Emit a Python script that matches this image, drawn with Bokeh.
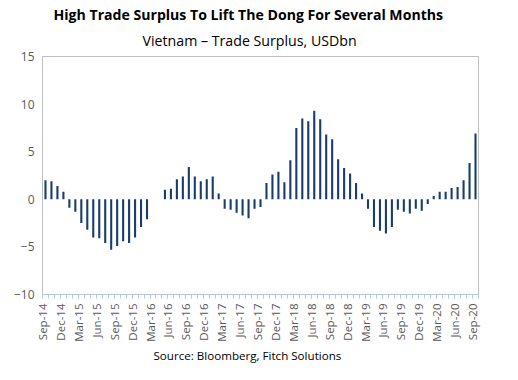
import numpy as np
from bokeh.plotting import figure
from bokeh.models import Range1d, FixedTicker, Title, ColumnDataSource
from bokeh.embed import file_html
from bokeh.resources import INLINE

# Monthly trade surplus, USDbn, Sep-14 .. Sep-20 (73 months)
values = [2.0, 1.9, 1.4, 0.8, -0.9, -1.3, -2.5, -3.2, -4.0, -4.1, -4.6, -5.3,
          -4.9, -4.4, -4.6, -4.0, -2.9, -2.1, 0.0, 0.0, 1.0, 1.1, 2.1, 2.4,
          3.4, 2.4, 1.9, 2.1, 2.4, 0.6, -1.0, -1.1, -1.4, -1.7, -2.0, -1.0,
          -0.8, 1.7, 2.6, 2.9, 1.8, 4.1, 7.5, 8.5, 8.2, 9.3, 8.4, 6.8,
          6.3, 4.2, 3.3, 2.7, 1.7, 0.6, -1.0, -2.9, -3.3, -3.6, -2.9, -1.1,
          -1.3, -1.5, -1.0, -1.2, -0.5, 0.35, 0.8, 0.8, 1.2, 1.3, 2.0, 3.8,
          6.9]

tick_labels = ["Sep-14", "Dec-14", "Mar-15", "Jun-15", "Sep-15", "Dec-15",
               "Mar-16", "Jun-16", "Sep-16", "Dec-16", "Mar-17", "Jun-17",
               "Sep-17", "Dec-17", "Mar-18", "Jun-18", "Sep-18", "Dec-18",
               "Mar-19", "Jun-19", "Sep-19", "Dec-19", "Mar-20", "Jun-20",
               "Sep-20"]

y_ticks = [-10, -5, 0, 5, 10, 15]

n = len(values)
x = np.arange(n) + 0.5
src = ColumnDataSource(dict(x=x, top=values))

FONT = "Open Sans"
BAR = "#183c6e"
GREY = "#595959"

p = figure(width=502, height=364, output_backend="svg", toolbar_location=None,
           title=None,
           x_range=Range1d(0, n), y_range=Range1d(y_ticks[0], y_ticks[-1]),
           min_border_left=42, min_border_right=24, min_border_top=56,
           min_border_bottom=70)

p.vbar(x="x", top="top", bottom=0, width=0.35, source=src,
       fill_color=BAR, line_color=None)

p.grid.visible = False
p.outline_line_color = "#bfbfbf"
p.outline_line_width = 1

# y axis
p.yaxis.ticker = FixedTicker(ticks=y_ticks)
p.yaxis.axis_line_color = "#bfbfbf"
p.yaxis.major_tick_out = 0
p.yaxis.major_tick_in = 0
p.yaxis.minor_tick_out = 0
p.yaxis.minor_tick_in = 0
p.yaxis.major_label_standoff = 8
p.yaxis.major_label_text_font = FONT
p.yaxis.major_label_text_font_size = "12px"
p.yaxis.major_label_text_color = GREY

# x axis
major = list(range(0, n, 3))
p.xaxis.ticker = FixedTicker(ticks=major, minor_ticks=list(range(0, n + 1)))
p.xaxis.major_label_overrides = {t: lab for t, lab in zip(major, tick_labels)}
p.xaxis.major_label_orientation = np.pi / 2
p.xaxis.axis_line_color = "#b4c7e7"
p.xaxis.major_tick_line_color = "#b4c7e7"
p.xaxis.minor_tick_line_color = "#b4c7e7"
p.xaxis.major_tick_out = 4
p.xaxis.major_tick_in = 0
p.xaxis.minor_tick_out = 4
p.xaxis.minor_tick_in = 0
p.xaxis.major_label_standoff = 5
p.xaxis.major_label_text_font = FONT
p.xaxis.major_label_text_font_size = "11.5px"
p.xaxis.major_label_text_color = GREY

sub = Title(text="Vietnam \u2013 Trade Surplus, USDbn", align="left",
            text_font=FONT, text_font_size="14.2px", text_font_style="normal",
            text_color="#000000", offset=100, standoff=13)
p.add_layout(sub, "above")
main = Title(text="High Trade Surplus To Lift The Dong For Several Months",
             align="left", text_font=FONT, text_font_size="14.1px",
             text_font_style="bold", text_color="#000000", offset=11,
             standoff=-3)
p.add_layout(main, "above")

src_title = Title(text="Source: Bloomberg, Fitch Solutions", align="left",
                  text_font=FONT, text_font_size="11.6px", text_font_style="normal",
                  text_color="#000000", offset=111, standoff=3)
p.add_layout(src_title, "below")

open("out.html", "w").write(file_html(p, INLINE))
